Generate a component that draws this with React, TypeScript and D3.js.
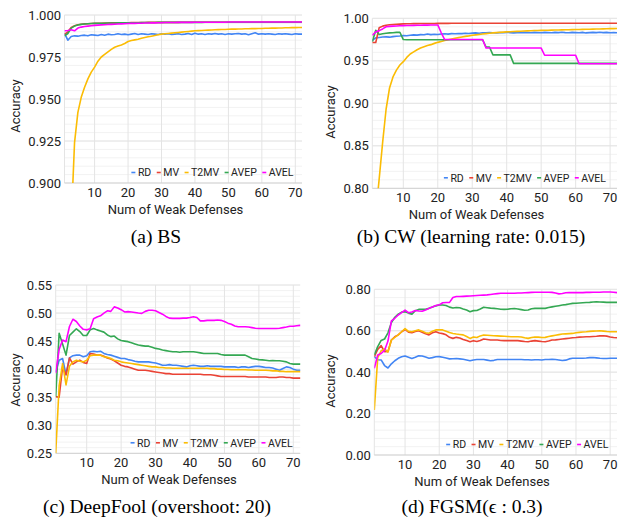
import React from 'react';
import * as d3 from 'd3';

// ---------- data ----------
const X_VALUES = d3.range(1, 73); // number of weak defenses 1..72
const SERIES_NAMES = ['RD', 'MV', 'T2MV', 'AVEP', 'AVEL'];
const SERIES_COLORS = ['#4285F4', '#EA4335', '#FBBC04', '#34A853', '#FF00FF'];
const X_TICKS = [10, 20, 30, 40, 50, 60, 70];

const BS_TICKS = [0.9, 0.925, 0.95, 0.975, 1.0];
const CW_TICKS = [0.8, 0.85, 0.9, 0.95, 1.0];
const DF_TICKS = [0.25, 0.3, 0.35, 0.4, 0.45, 0.5, 0.55];
const FGSM_TICKS = [0.0, 0.2, 0.4, 0.6, 0.8];

const CAPTIONS = ['(a) BS', '(b) CW (learning rate: 0.015)', '(c) DeepFool (overshoot: 20)', '(d) FGSM(\u03F5 : 0.3)'];

// (a) BS
const BS_RD = [
  0.9890, 0.9850, 0.9872, 0.9876, 0.9874, 0.9878, 0.9880, 0.9876, 0.9882, 0.9880,
  0.9878, 0.9884, 0.9880, 0.9886, 0.9882, 0.9884, 0.9888, 0.9884, 0.9886, 0.9882,
  0.9886, 0.9890, 0.9884, 0.9888, 0.9886, 0.9884, 0.9888, 0.9886, 0.9884, 0.9888,
  0.9886, 0.9888, 0.9884, 0.9886, 0.9888, 0.9884, 0.9886, 0.9890, 0.9884, 0.9892,
  0.9886, 0.9888, 0.9884, 0.9888, 0.9886, 0.9890, 0.9886, 0.9888, 0.9884, 0.9888,
  0.9886, 0.9888, 0.9890, 0.9886, 0.9888, 0.9882, 0.9888, 0.9894, 0.9886, 0.9888,
  0.9886, 0.9888, 0.9886, 0.9884, 0.9888, 0.9886, 0.9888, 0.9886, 0.9884, 0.9888,
  0.9886, 0.9886,
];
const BS_MV = [
  0.9884, 0.9900, 0.9926, 0.9936, 0.9942, 0.9945, 0.9947, 0.9948, 0.9949, 0.9950,
  0.9951, 0.9951, 0.9952, 0.9952, 0.9953, 0.9953, 0.9953, 0.9954, 0.9954, 0.9954,
  0.9955, 0.9955, 0.9955, 0.9955, 0.9955, 0.9956, 0.9956, 0.9956, 0.9956, 0.9956,
  0.9956, 0.9956, 0.9956, 0.9956, 0.9956, 0.9957, 0.9957, 0.9957, 0.9957, 0.9957,
  0.9957, 0.9957, 0.9957, 0.9957, 0.9957, 0.9957, 0.9957, 0.9957, 0.9957, 0.9957,
  0.9957, 0.9957, 0.9957, 0.9957, 0.9957, 0.9957, 0.9957, 0.9957, 0.9957, 0.9957,
  0.9957, 0.9957, 0.9957, 0.9957, 0.9957, 0.9957, 0.9957, 0.9957, 0.9957, 0.9957,
  0.9957, 0.9957,
];
const BS_T2MV = [
  0.8000, 0.8400, 0.8760, 0.9240, 0.9420, 0.9510, 0.9570, 0.9620, 0.9660, 0.9690,
  0.9725, 0.9750, 0.9765, 0.9780, 0.9795, 0.9808, 0.9815, 0.9822, 0.9830, 0.9842,
  0.9848, 0.9852, 0.9856, 0.9862, 0.9866, 0.9870, 0.9874, 0.9878, 0.9882, 0.9886,
  0.9888, 0.9890, 0.9892, 0.9894, 0.9896, 0.9898, 0.9900, 0.9902, 0.9904, 0.9906,
  0.9907, 0.9908, 0.9909, 0.9910, 0.9911, 0.9912, 0.9913, 0.9914, 0.9914, 0.9915,
  0.9916, 0.9916, 0.9917, 0.9917, 0.9918, 0.9918, 0.9919, 0.9919, 0.9920, 0.9920,
  0.9921, 0.9921, 0.9922, 0.9922, 0.9923, 0.9923, 0.9924, 0.9924, 0.9925, 0.9925,
  0.9926, 0.9926,
];
const BS_AVEP = [
  0.9876, 0.9890, 0.9922, 0.9934, 0.9940, 0.9944, 0.9946, 0.9948, 0.9949, 0.9950,
  0.9950, 0.9951, 0.9951, 0.9952, 0.9952, 0.9952, 0.9953, 0.9953, 0.9953, 0.9954,
  0.9954, 0.9954, 0.9954, 0.9955, 0.9955, 0.9955, 0.9955, 0.9955, 0.9956, 0.9956,
  0.9956, 0.9956, 0.9956, 0.9956, 0.9956, 0.9956, 0.9956, 0.9956, 0.9956, 0.9956,
  0.9956, 0.9956, 0.9957, 0.9957, 0.9957, 0.9957, 0.9957, 0.9957, 0.9957, 0.9957,
  0.9957, 0.9957, 0.9957, 0.9957, 0.9957, 0.9957, 0.9957, 0.9957, 0.9957, 0.9957,
  0.9957, 0.9957, 0.9957, 0.9957, 0.9957, 0.9957, 0.9957, 0.9957, 0.9957, 0.9957,
  0.9957, 0.9957,
];
const BS_AVEL = [
  0.9906, 0.9908, 0.9912, 0.9906, 0.9922, 0.9928, 0.9932, 0.9934, 0.9936, 0.9938,
  0.9940, 0.9941, 0.9942, 0.9943, 0.9944, 0.9945, 0.9946, 0.9947, 0.9948, 0.9949,
  0.9950, 0.9950, 0.9951, 0.9951, 0.9952, 0.9952, 0.9953, 0.9953, 0.9954, 0.9954,
  0.9955, 0.9955, 0.9955, 0.9955, 0.9956, 0.9956, 0.9956, 0.9956, 0.9956, 0.9957,
  0.9957, 0.9957, 0.9957, 0.9957, 0.9957, 0.9957, 0.9957, 0.9957, 0.9957, 0.9958,
  0.9958, 0.9958, 0.9958, 0.9958, 0.9958, 0.9958, 0.9958, 0.9958, 0.9958, 0.9958,
  0.9958, 0.9958, 0.9958, 0.9958, 0.9958, 0.9958, 0.9958, 0.9958, 0.9958, 0.9958,
  0.9958, 0.9958,
];

// (b) CW
const CW_RD = [
  0.9740, 0.9770, 0.9775, 0.9780, 0.9782, 0.9778, 0.9784, 0.9788, 0.9792, 0.9798,
  0.9795, 0.9800, 0.9805, 0.9802, 0.9808, 0.9806, 0.9815, 0.9808, 0.9812, 0.9810,
  0.9815, 0.9818, 0.9814, 0.9820, 0.9818, 0.9822, 0.9820, 0.9825, 0.9822, 0.9826,
  0.9828, 0.9825, 0.9830, 0.9828, 0.9832, 0.9830, 0.9828, 0.9832, 0.9830, 0.9834,
  0.9832, 0.9828, 0.9832, 0.9830, 0.9834, 0.9832, 0.9830, 0.9834, 0.9832, 0.9830,
  0.9834, 0.9832, 0.9830, 0.9834, 0.9832, 0.9836, 0.9832, 0.9830, 0.9834, 0.9832,
  0.9830, 0.9834, 0.9828, 0.9832, 0.9834, 0.9832, 0.9836, 0.9832, 0.9834, 0.9830,
  0.9832, 0.9830,
];
const CW_MV = [
  0.9715, 0.9715, 0.9890, 0.9908, 0.9918, 0.9924, 0.9927, 0.9930, 0.9932, 0.9934,
  0.9935, 0.9936, 0.9937, 0.9937, 0.9938, 0.9938, 0.9939, 0.9939, 0.9939, 0.9940,
  0.9940, 0.9940, 0.9940, 0.9941, 0.9941, 0.9941, 0.9941, 0.9941, 0.9942, 0.9942,
  0.9942, 0.9942, 0.9942, 0.9942, 0.9942, 0.9942, 0.9942, 0.9942, 0.9942, 0.9942,
  0.9942, 0.9942, 0.9942, 0.9942, 0.9942, 0.9942, 0.9942, 0.9942, 0.9942, 0.9942,
  0.9942, 0.9942, 0.9942, 0.9942, 0.9942, 0.9942, 0.9942, 0.9942, 0.9942, 0.9942,
  0.9942, 0.9942, 0.9942, 0.9942, 0.9942, 0.9942, 0.9942, 0.9942, 0.9942, 0.9942,
  0.9942, 0.9942,
];
const CW_T2MV = [
  0.7000, 0.7700, 0.8110, 0.8540, 0.8930, 0.9180, 0.9310, 0.9390, 0.9450, 0.9490,
  0.9540, 0.9580, 0.9605, 0.9630, 0.9650, 0.9665, 0.9680, 0.9690, 0.9705, 0.9717,
  0.9728, 0.9738, 0.9748, 0.9757, 0.9765, 0.9773, 0.9780, 0.9787, 0.9793, 0.9800,
  0.9805, 0.9810, 0.9815, 0.9820, 0.9824, 0.9828, 0.9831, 0.9834, 0.9837, 0.9840,
  0.9842, 0.9844, 0.9846, 0.9848, 0.9850, 0.9852, 0.9854, 0.9856, 0.9857, 0.9858,
  0.9859, 0.9860, 0.9861, 0.9862, 0.9863, 0.9864, 0.9865, 0.9866, 0.9867, 0.9868,
  0.9869, 0.9870, 0.9871, 0.9872, 0.9873, 0.9874, 0.9875, 0.9876, 0.9877, 0.9878,
  0.9879, 0.9880,
];
const CW_AVEP = [
  0.9725, 0.9860, 0.9810, 0.9818, 0.9825, 0.9828, 0.9830, 0.9834, 0.9836, 0.9750,
  0.9748, 0.9748, 0.9748, 0.9748, 0.9748, 0.9748, 0.9748, 0.9748, 0.9748, 0.9748,
  0.9748, 0.9748, 0.9748, 0.9748, 0.9748, 0.9748, 0.9748, 0.9748, 0.9748, 0.9748,
  0.9748, 0.9748, 0.9748, 0.9662, 0.9662, 0.9570, 0.9570, 0.9570, 0.9570, 0.9570,
  0.9570, 0.9470, 0.9470, 0.9470, 0.9470, 0.9470, 0.9470, 0.9470, 0.9470, 0.9470,
  0.9470, 0.9470, 0.9470, 0.9470, 0.9470, 0.9470, 0.9470, 0.9470, 0.9470, 0.9470,
  0.9470, 0.9470, 0.9470, 0.9470, 0.9470, 0.9470, 0.9470, 0.9470, 0.9470, 0.9470,
  0.9470, 0.9470,
];
const CW_AVEL = [
  0.9800, 0.9840, 0.9855, 0.9875, 0.9900, 0.9905, 0.9908, 0.9910, 0.9912, 0.9914,
  0.9915, 0.9916, 0.9917, 0.9918, 0.9919, 0.9920, 0.9920, 0.9921, 0.9921, 0.9922,
  0.9830, 0.9750, 0.9750, 0.9750, 0.9750, 0.9750, 0.9750, 0.9750, 0.9750, 0.9750,
  0.9750, 0.9750, 0.9750, 0.9650, 0.9650, 0.9650, 0.9650, 0.9650, 0.9650, 0.9650,
  0.9650, 0.9650, 0.9650, 0.9650, 0.9650, 0.9650, 0.9650, 0.9650, 0.9650, 0.9650,
  0.9565, 0.9565, 0.9565, 0.9565, 0.9565, 0.9565, 0.9565, 0.9565, 0.9565, 0.9565,
  0.9465, 0.9465, 0.9465, 0.9465, 0.9465, 0.9465, 0.9465, 0.9465, 0.9465, 0.9465,
  0.9465, 0.9465,
];

// (c) DeepFool
const DF_RD = [
  0.395, 0.416, 0.419, 0.390, 0.420, 0.424, 0.425, 0.425, 0.422, 0.424,
  0.431, 0.432, 0.431, 0.432, 0.428, 0.426, 0.425, 0.423, 0.421, 0.419,
  0.419, 0.417, 0.416, 0.414, 0.413, 0.413, 0.413, 0.413, 0.412, 0.411,
  0.409, 0.407, 0.407, 0.408, 0.407, 0.407, 0.406, 0.405, 0.404, 0.406,
  0.407, 0.406, 0.405, 0.405, 0.406, 0.405, 0.405, 0.405, 0.405, 0.404,
  0.404, 0.404, 0.404, 0.403, 0.404, 0.404, 0.403, 0.404, 0.405, 0.405,
  0.404, 0.403, 0.403, 0.402, 0.400, 0.398, 0.401, 0.404, 0.403, 0.400,
  0.398, 0.398,
];
const DF_MV = [
  0.351, 0.350, 0.404, 0.390, 0.420, 0.409, 0.413, 0.416, 0.412, 0.410,
  0.428, 0.427, 0.425, 0.425, 0.423, 0.420, 0.418, 0.415, 0.411, 0.407,
  0.405, 0.404, 0.402, 0.400, 0.398, 0.398, 0.398, 0.397, 0.396, 0.395,
  0.394, 0.393, 0.392, 0.392, 0.391, 0.391, 0.391, 0.391, 0.391, 0.391,
  0.391, 0.391, 0.391, 0.390, 0.390, 0.390, 0.389, 0.388, 0.387, 0.387,
  0.387, 0.387, 0.387, 0.387, 0.387, 0.387, 0.386, 0.386, 0.386, 0.386,
  0.386, 0.386, 0.385, 0.385, 0.385, 0.386, 0.386, 0.385, 0.385, 0.384,
  0.384, 0.384,
];
const DF_T2MV = [
  0.250, 0.370, 0.410, 0.372, 0.405, 0.413, 0.416, 0.414, 0.413, 0.416,
  0.424, 0.425, 0.425, 0.425, 0.422, 0.421, 0.419, 0.416, 0.415, 0.413,
  0.412, 0.411, 0.410, 0.409, 0.408, 0.407, 0.406, 0.405, 0.404, 0.404,
  0.403, 0.403, 0.402, 0.402, 0.4015, 0.4015, 0.4015, 0.4015, 0.4015, 0.4015,
  0.4015, 0.4015, 0.4015, 0.4015, 0.4015, 0.401, 0.401, 0.400, 0.400, 0.3995,
  0.3995, 0.399, 0.399, 0.399, 0.399, 0.399, 0.3985, 0.3985, 0.398, 0.398,
  0.398, 0.398, 0.3975, 0.397, 0.397, 0.396, 0.396, 0.3955, 0.3955, 0.3955,
  0.3955, 0.3955,
];
const DF_AVEP = [
  0.351, 0.464, 0.445, 0.425, 0.460, 0.466, 0.472, 0.467, 0.460, 0.460,
  0.470, 0.4725, 0.470, 0.468, 0.466, 0.461, 0.458, 0.459, 0.454, 0.451,
  0.450, 0.449, 0.447, 0.445, 0.443, 0.442, 0.441, 0.441, 0.439, 0.437,
  0.436, 0.434, 0.433, 0.432, 0.431, 0.431, 0.430, 0.431, 0.431, 0.431,
  0.431, 0.430, 0.429, 0.428, 0.428, 0.428, 0.428, 0.428, 0.426, 0.425,
  0.425, 0.425, 0.425, 0.425, 0.425, 0.425, 0.422, 0.419, 0.418, 0.417,
  0.4165, 0.416, 0.415, 0.4155, 0.415, 0.415, 0.414, 0.413, 0.410, 0.409,
  0.409, 0.409,
];
const DF_AVEL = [
  0.393, 0.435, 0.452, 0.449, 0.476, 0.489, 0.485, 0.477, 0.471, 0.470,
  0.472, 0.490, 0.493, 0.495, 0.500, 0.504, 0.503, 0.511, 0.509, 0.506,
  0.502, 0.5025, 0.502, 0.501, 0.500, 0.4995, 0.503, 0.505, 0.505, 0.504,
  0.501, 0.498, 0.494, 0.491, 0.4905, 0.4905, 0.4905, 0.491, 0.491, 0.492,
  0.4935, 0.492, 0.486, 0.486, 0.487, 0.487, 0.487, 0.4875, 0.487, 0.485,
  0.482, 0.480, 0.477, 0.4755, 0.4755, 0.4755, 0.475, 0.474, 0.473, 0.4725,
  0.4725, 0.4725, 0.4725, 0.4725, 0.4725, 0.473, 0.474, 0.475, 0.4765, 0.4765,
  0.4775, 0.478,
];

// (d) FGSM
const FGSM_RD = [
  0.475, 0.460, 0.459, 0.432, 0.420, 0.440, 0.455, 0.467, 0.474, 0.478,
  0.472, 0.466, 0.472, 0.479, 0.478, 0.473, 0.467, 0.470, 0.474, 0.475,
  0.472, 0.468, 0.464, 0.465, 0.466, 0.464, 0.462, 0.459, 0.455, 0.459,
  0.461, 0.461, 0.461, 0.458, 0.455, 0.457, 0.461, 0.461, 0.461, 0.461,
  0.461, 0.461, 0.461, 0.461, 0.460, 0.460, 0.459, 0.460, 0.460, 0.459,
  0.461, 0.461, 0.462, 0.461, 0.459, 0.456, 0.458, 0.464, 0.467, 0.467,
  0.467, 0.467, 0.468, 0.470, 0.471, 0.469, 0.467, 0.466, 0.466, 0.467,
  0.467, 0.467,
];
const FGSM_MV = [
  0.475, 0.510, 0.528, 0.499, 0.500, 0.555, 0.571, 0.580, 0.595, 0.606,
  0.593, 0.590, 0.596, 0.600, 0.593, 0.585, 0.580, 0.590, 0.595, 0.589,
  0.586, 0.580, 0.568, 0.563, 0.568, 0.565, 0.558, 0.553, 0.547, 0.552,
  0.548, 0.553, 0.560, 0.558, 0.555, 0.555, 0.555, 0.553, 0.552, 0.552,
  0.552, 0.552, 0.552, 0.550, 0.548, 0.547, 0.550, 0.552, 0.550, 0.548,
  0.547, 0.550, 0.555, 0.556, 0.558, 0.560, 0.562, 0.564, 0.566, 0.567,
  0.569, 0.570, 0.571, 0.571, 0.572, 0.573, 0.575, 0.576, 0.574, 0.570,
  0.567, 0.566,
];
const FGSM_T2MV = [
  0.217, 0.470, 0.503, 0.512, 0.497, 0.555, 0.568, 0.580, 0.595, 0.610,
  0.597, 0.595, 0.600, 0.604, 0.598, 0.590, 0.588, 0.598, 0.604, 0.604,
  0.604, 0.598, 0.591, 0.587, 0.584, 0.582, 0.580, 0.572, 0.563, 0.570,
  0.567, 0.575, 0.579, 0.578, 0.577, 0.576, 0.575, 0.574, 0.573, 0.572,
  0.571, 0.571, 0.571, 0.570, 0.566, 0.563, 0.567, 0.570, 0.569, 0.567,
  0.568, 0.572, 0.575, 0.578, 0.581, 0.584, 0.585, 0.586, 0.587, 0.590,
  0.592, 0.594, 0.595, 0.597, 0.598, 0.599, 0.600, 0.598, 0.596, 0.595,
  0.595, 0.595,
];
const FGSM_AVEP = [
  0.483, 0.523, 0.553, 0.560, 0.590, 0.640, 0.665, 0.680, 0.690, 0.692,
  0.685, 0.680, 0.697, 0.703, 0.703, 0.704, 0.708, 0.714, 0.720, 0.724,
  0.724, 0.722, 0.714, 0.710, 0.712, 0.711, 0.705, 0.700, 0.692, 0.697,
  0.698, 0.705, 0.713, 0.711, 0.709, 0.708, 0.706, 0.704, 0.703, 0.704,
  0.706, 0.707, 0.705, 0.702, 0.699, 0.700, 0.706, 0.708, 0.708, 0.708,
  0.708, 0.712, 0.715, 0.718, 0.721, 0.724, 0.726, 0.729, 0.732, 0.733,
  0.734, 0.735, 0.736, 0.737, 0.739, 0.740, 0.739, 0.738, 0.737, 0.737,
  0.737, 0.737,
];
const FGSM_AVEL = [
  0.418, 0.483, 0.490, 0.505, 0.550, 0.648, 0.660, 0.676, 0.687, 0.700,
  0.687, 0.690, 0.698, 0.695, 0.694, 0.700, 0.708, 0.715, 0.722, 0.725,
  0.735, 0.736, 0.737, 0.760, 0.765, 0.765, 0.766, 0.767, 0.768, 0.769,
  0.770, 0.771, 0.772, 0.773, 0.775, 0.777, 0.779, 0.781, 0.781, 0.781,
  0.781, 0.781, 0.782, 0.782, 0.783, 0.784, 0.785, 0.786, 0.786, 0.786,
  0.786, 0.786, 0.785, 0.782, 0.778, 0.780, 0.783, 0.784, 0.784, 0.784,
  0.784, 0.784, 0.785, 0.785, 0.786, 0.786, 0.786, 0.787, 0.787, 0.787,
  0.786, 0.784,
];

// ---------- layout ----------
type PanelCfg = {
  key: string;
  series: number[][];
  yDomain: [number, number];
  yTicks: number[];
  yFormat: string;
  minorStep: number;
  left: number; right: number; top: number; bottom: number;
  xTitleX: number; yTitleX: number; yTitleY: number;
  legendRight: number;
  caption: string; captionX: number; captionY: number;
};

const PANELS: PanelCfg[] = [
  {
    key: 'a', series: [BS_RD, BS_MV, BS_T2MV, BS_AVEP, BS_AVEL],
    yDomain: [0.9, 1.0], yTicks: BS_TICKS, yFormat: '.3f', minorStep: 0.005,
    left: 64.5, right: 302, top: 15, bottom: 183,
    xTitleX: 175.5, yTitleX: 15, yTitleY: 106,
    legendRight: 293.5,
    caption: CAPTIONS[0], captionX: 156, captionY: 243,
  },
  {
    key: 'b', series: [CW_RD, CW_MV, CW_T2MV, CW_AVEP, CW_AVEL],
    yDomain: [0.8, 1.0], yTicks: CW_TICKS, yFormat: '.2f', minorStep: 0.01,
    left: 372.3, right: 617, top: 18.3, bottom: 188.3,
    xTitleX: 476.5, yTitleX: 330, yTitleY: 112,
    legendRight: 606,
    caption: CAPTIONS[1], captionX: 471, captionY: 243,
  },
  {
    key: 'c', series: [DF_RD, DF_MV, DF_T2MV, DF_AVEP, DF_AVEL],
    yDomain: [0.25, 0.55], yTicks: DF_TICKS, yFormat: '.2f', minorStep: 0.01,
    left: 55.7, right: 300.2, top: 285, bottom: 453.3,
    xTitleX: 169, yTitleX: 15, yTitleY: 380,
    legendRight: 292.7,
    caption: CAPTIONS[2], captionX: 157, captionY: 513,
  },
  {
    key: 'd', series: [FGSM_RD, FGSM_MV, FGSM_T2MV, FGSM_AVEP, FGSM_AVEL],
    yDomain: [0.0, 0.8], yTicks: FGSM_TICKS, yFormat: '.2f', minorStep: 0.04,
    left: 374.3, right: 617, top: 289.3, bottom: 455,
    xTitleX: 482, yTitleX: 330, yTitleY: 381,
    legendRight: 608.3,
    caption: CAPTIONS[3], captionX: 472, captionY: 513,
  },
];

const FONT = 'Roboto, Arial, sans-serif';
const TEXT_COLOR = '#222222';
const LEGEND_FONT_SIZE = 10.5;

let measureCtx: CanvasRenderingContext2D | null = null;
function textWidth(s: string, size: number) {
  if (!measureCtx) {
    const c = document.createElement('canvas');
    measureCtx = c.getContext('2d');
  }
  if (!measureCtx) return s.length * size * 0.6;
  measureCtx.font = `${size}px Roboto`;
  return measureCtx.measureText(s).width;
}

function Legend({ right, cy }: { right: number; cy: number }) {
  const dashW = 4;
  const dashGap = 2.5;
  const itemGap = 5.5;
  const widths = SERIES_NAMES.map((n) => textWidth(n, LEGEND_FONT_SIZE));
  const total = widths.reduce((s, w) => s + w + dashW + dashGap, 0) + itemGap * (SERIES_NAMES.length - 1);
  let cursor = right - total;
  const items = SERIES_NAMES.map((name, i) => {
    const x0 = cursor;
    cursor += dashW + dashGap + widths[i] + itemGap;
    return (
      <g key={name}>
        <line x1={x0} x2={x0 + dashW} y1={cy} y2={cy} stroke={SERIES_COLORS[i]} strokeWidth={1.6} />
        <text x={x0 + dashW + dashGap} y={cy} dy="0.36em" fontSize={LEGEND_FONT_SIZE} fill={TEXT_COLOR} fontFamily={FONT}>
          {name}
        </text>
      </g>
    );
  });
  return <g>{items}</g>;
}

function Panel({ cfg }: { cfg: PanelCfg }) {
  const x = d3.scaleLinear().domain([1, 72]).range([cfg.left, cfg.right]);
  const y = d3.scaleLinear().domain(cfg.yDomain).range([cfg.bottom, cfg.top]);
  const fmt = d3.format(cfg.yFormat);
  const line = d3
    .line<number>()
    .x((_, i) => x(X_VALUES[i]))
    .y((d) => y(d));
  const minor = d3.range(cfg.yDomain[0], cfg.yDomain[1] + 1e-9, cfg.minorStep);
  const clipId = `clip-${cfg.key}`;
  return (
    <g>
      <defs>
        <clipPath id={clipId}>
          <rect x={cfg.left} y={cfg.top - 3} width={cfg.right - cfg.left + 1} height={cfg.bottom - cfg.top + 3} />
        </clipPath>
      </defs>
      {/* minor grid */}
      {minor.map((v, i) => (
        <line key={`m${i}`} x1={cfg.left} x2={cfg.right} y1={y(v)} y2={y(v)} stroke="#f2f2f2" strokeWidth={1} />
      ))}
      {/* vertical grid */}
      {[1, ...X_TICKS].map((t) => (
        <line key={`v${t}`} x1={x(t)} x2={x(t)} y1={cfg.top} y2={cfg.bottom} stroke="#e4e4e4" strokeWidth={1} />
      ))}
      {/* major grid */}
      {cfg.yTicks.map((t, i) => (
        <line key={`g${i}`} x1={cfg.left} x2={cfg.right} y1={y(t)} y2={y(t)} stroke={i === 0 ? '#cfcfcf' : '#e4e4e4'} strokeWidth={1} />
      ))}
      {/* y tick labels */}
      {cfg.yTicks.map((t, i) => (
        <text key={`yl${i}`} x={cfg.left - 3.5} y={y(t)} dy="0.36em" textAnchor="end" fontSize={13} fill={TEXT_COLOR} fontFamily={FONT}>
          {fmt(t)}
        </text>
      ))}
      {/* x tick labels */}
      {X_TICKS.map((t) => (
        <text key={`xl${t}`} x={x(t)} y={cfg.bottom + 14} textAnchor="middle" fontSize={13} fill={TEXT_COLOR} fontFamily={FONT}>
          {t}
        </text>
      ))}
      {/* axis titles */}
      <text x={cfg.xTitleX} y={cfg.bottom + 30.5} textAnchor="middle" fontSize={13} fill={TEXT_COLOR} fontFamily={FONT}>
        Num of Weak Defenses
      </text>
      <text
        transform={`translate(${cfg.yTitleX},${cfg.yTitleY}) rotate(-90)`}
        dy="0.36em"
        textAnchor="middle"
        fontSize={13}
        fill={TEXT_COLOR}
        fontFamily={FONT}
      >
        Accuracy
      </text>
      {/* series */}
      <g clipPath={`url(#${clipId})`}>
        {cfg.series.map((vals, i) => (
          <path key={SERIES_NAMES[i]} d={line(vals) || ''} fill="none" stroke={SERIES_COLORS[i]} strokeWidth={1.6} strokeLinejoin="round" />
        ))}
      </g>
      <Legend right={cfg.legendRight} cy={cfg.bottom - 10.5} />
      {/* caption */}
      <text x={cfg.captionX} y={cfg.captionY} textAnchor="middle" fontSize={19.5} fill="#000" fontFamily="'Liberation Serif', 'Times New Roman', serif">
        {cfg.caption}
      </text>
    </g>
  );
}

export default function App() {
  return (
    <svg
      width={623}
      height={518}
      viewBox="0 0 623 518"
      style={{ position: 'absolute', left: 0, top: 0, background: '#fff', display: 'block' }}
    >
      <rect x={0} y={0} width={623} height={518} fill="#fff" />
      {PANELS.map((p) => (
        <Panel key={p.key} cfg={p} />
      ))}
    </svg>
  );
}
